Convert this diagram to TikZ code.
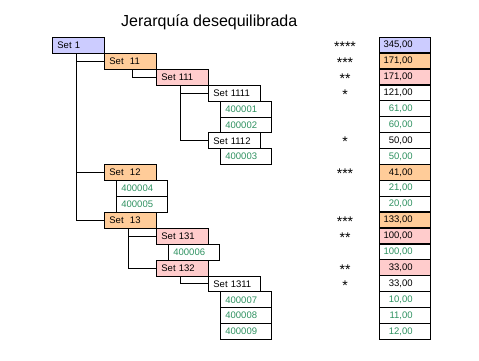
\documentclass[tikz,border=0pt]{standalone}
\usepackage{fontspec}
\setmainfont{Liberation Sans}
\definecolor{lila}{RGB}{204,204,255}
\definecolor{naranja}{RGB}{255,204,153}
\definecolor{rosa}{RGB}{255,204,204}
\definecolor{verdeHoja}{RGB}{46,145,96}
\newcommand{\jCell}[1]{\makebox[51pt][r]{#1\hspace{18pt}}}

\begin{document}
\begin{tikzpicture}[x=1pt,y=-1pt,
  setbox/.style={draw, line width=0.8pt, anchor=north west, inner xsep=5pt, inner ysep=0pt,
    text width=42pt, align=left, minimum height=15.9pt, font=\fontsize{9.5}{10}\selectfont},
  hojabox/.style={setbox, text width=41pt, text=verdeHoja},
  valbox/.style={draw, line width=1.3pt, anchor=north west, inner sep=0pt,
    minimum width=51pt, minimum height=15.9pt, font=\fontsize{9.5}{10}\selectfont},
  valhoja/.style={valbox, text=verdeHoja},
  estrellas/.style={anchor=base, inner sep=0pt, font=\fontsize{14}{14}\selectfont},
  conector/.style={line width=0.8pt}]
\useasboundingbox (0,0) rectangle (479,360);
\node[anchor=base west, inner sep=0pt, font=\fontsize{16}{18}\selectfont] (titulo) at (121,26) {Jerarquía desequilibrada};
\node[setbox, fill=lila] (s1) at (52,37) {Set 1};
\node[setbox, fill=naranja] (s11) at (104,52.9) {Set \ 11};
\node[setbox, fill=rosa] (s111) at (156,68.8) {Set 111};
\node[setbox] (s1111) at (208,84.7) {Set 1111};
\node[hojabox] (h1) at (220,100.6) {400001};
\node[hojabox] (h2) at (220,116.5) {400002};
\node[setbox] (s1112) at (208,132.4) {Set 1112};
\node[hojabox] (h3) at (220,148.3) {400003};
\node[setbox, fill=naranja] (s12) at (104,164.2) {Set \ 12};
\node[hojabox] (h4) at (116,180.1) {400004};
\node[hojabox] (h5) at (116,196) {400005};
\node[setbox, fill=naranja] (s13) at (104,211.9) {Set \ 13};
\node[setbox, fill=rosa] (s131) at (156,227.8) {Set 131};
\node[hojabox] (h6) at (168,243.7) {400006};
\node[setbox, fill=rosa] (s132) at (156,259.6) {Set 132};
\node[setbox] (s1311) at (208,275.5) {Set 1311};
\node[hojabox] (h7) at (220,291.4) {400007};
\node[hojabox] (h8) at (220,307.3) {400008};
\node[hojabox] (h9) at (220,323.2) {400009};
\draw[conector] ([xshift=24pt]s1.south west) |- (s11.west);
\draw[conector] ([xshift=24pt]s1.south west) |- (s12.west);
\draw[conector] ([xshift=24pt]s1.south west) |- (s13.west);
\draw[conector] ([xshift=28pt]s11.south west) |- (s111.west);
\draw[conector] ([xshift=24pt]s111.south west) |- (s1111.west);
\draw[conector] ([xshift=24pt]s111.south west) |- (s1112.west);
\draw[conector] ([xshift=24pt]s13.south west) |- (s131.west);
\draw[conector] ([xshift=24pt]s13.south west) |- (s132.west);
\draw[conector] ([xshift=24pt]s132.south west) |- (s1311.west);
\node[estrellas] (e1) at (345,51.5) {****};
\node[estrellas] (e11) at (345,67.4) {***};
\node[estrellas] (e111) at (345,83.3) {**};
\node[estrellas] (e1111) at (345,99.2) {*};
\node[estrellas] (e1112) at (345,146.9) {*};
\node[estrellas] (e12) at (345,178.7) {***};
\node[estrellas] (e13) at (345,226.4) {***};
\node[estrellas] (e131) at (345,242.3) {**};
\node[estrellas] (e132) at (345,274.1) {**};
\node[estrellas] (e1311) at (345,290) {*};
\node[valbox, fill=lila] (v1) at (379,36.5) {\jCell{345,00}};
\node[valbox, fill=naranja] (v11) at (379,52.4) {\jCell{171,00}};
\node[valbox, fill=rosa] (v111) at (379,68.3) {\jCell{171,00}};
\node[valbox] (v1111) at (379,84.2) {\jCell{121,00}};
\node[valhoja] (vh1) at (379,100.1) {\jCell{61,00}};
\node[valhoja] (vh2) at (379,116) {\jCell{60,00}};
\node[valbox] (v1112) at (379,131.9) {\jCell{50,00}};
\node[valhoja] (vh3) at (379,147.8) {\jCell{50,00}};
\node[valbox, fill=naranja] (v12) at (379,163.7) {\jCell{41,00}};
\node[valhoja] (vh4) at (379,179.6) {\jCell{21,00}};
\node[valhoja] (vh5) at (379,195.5) {\jCell{20,00}};
\node[valbox, fill=naranja] (v13) at (379,211.4) {\jCell{133,00}};
\node[valbox, fill=rosa] (v131) at (379,227.3) {\jCell{100,00}};
\node[valhoja] (vh6) at (379,243.2) {\jCell{100,00}};
\node[valbox, fill=rosa] (v132) at (379,259.1) {\jCell{33,00}};
\node[valbox] (v1311) at (379,275) {\jCell{33,00}};
\node[valhoja] (vh7) at (379,290.9) {\jCell{10,00}};
\node[valhoja] (vh8) at (379,306.8) {\jCell{11,00}};
\node[valhoja] (vh9) at (379,322.7) {\jCell{12,00}};
\end{tikzpicture}
\end{document}
